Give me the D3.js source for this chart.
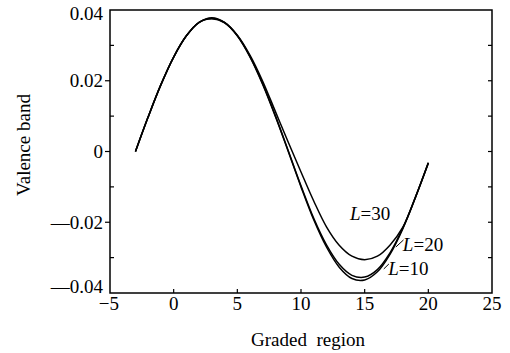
<!DOCTYPE html>
<html><head><meta charset="utf-8">
<script src="https://cdn.jsdelivr.net/npm/d3@7"></script>
<style>body{margin:0;background:#fff}svg{display:block}text{font-family:"Liberation Serif","Times New Roman",serif;fill:#000}</style>
</head><body><svg id="c" width="510" height="353"></svg>
<script>
const xs = [-3,-2,-1,0,1,2,3,4,5,6,7,8,9,10,11,12,13,14,15,16,17,18,19,20];
const L10 = [0,0.0098,0.0189,0.0267,0.0327,0.0365,0.0378,0.0365,0.0327,0.0267,0.0189,0.0098,0,-0.0100,-0.0193,-0.0270,-0.0327,-0.0359,-0.0363,-0.0340,-0.0290,-0.0218,-0.0129,-0.0032];
const L20 = [0,0.0098,0.0189,0.0267,0.0327,0.0365,0.0376,0.0364,0.0327,0.0268,0.0191,0.0100,0.0002,-0.0097,-0.0189,-0.0264,-0.0319,-0.0350,-0.0355,-0.0334,-0.0286,-0.0216,-0.0128,-0.0032];
const L30 = [0,0.0098,0.0189,0.0267,0.0327,0.0365,0.0375,0.0364,0.0329,0.0272,0.0198,0.0112,0.0026,-0.0058,-0.0140,-0.0213,-0.0265,-0.0296,-0.0306,-0.0296,-0.0264,-0.0214,-0.0128,-0.0033];
const xTicks = [-5,0,5,10,15,20,25];
const yTicks = [0.04,0.02,0,-0.02,-0.04];
const yMinor = [0.03,0.01,-0.01,-0.03];
const yTickLabels = ["0.04","0.02","0","\u20140.02","\u20140.04"];
const labels = [{t:"30", x:13.85, y:-0.0194},{t:"20", x:18.0, y:-0.0281},{t:"10", x:16.85, y:-0.0349}];

const svg = d3.select("#c");
const m = {l:110, r:492, t:10, b:293};
const x = d3.scaleLinear().domain([-5,25]).range([m.l,m.r]);
const y = d3.scaleLinear().domain([-0.04,0.04]).range([m.b,m.t]);

svg.append("rect").attr("x",m.l).attr("y",m.t).attr("width",m.r-m.l).attr("height",m.b-m.t)
  .attr("fill","none").attr("stroke","#000").attr("stroke-width",1.5);

const g = svg.append("g");
yTicks.forEach((v,i)=>{
  if(i>0 && i<yTicks.length-1){
    g.append("line").attr("x1",m.l-5).attr("x2",m.l).attr("y1",y(v)).attr("y2",y(v)).attr("stroke","#000").attr("stroke-width",1.2);
  }
  const off = i===0 ? 3 : (i===yTicks.length-1 ? -7 : 0);
  g.append("text").attr("x",m.l-7).attr("y",y(v)+off).attr("dy","0.35em").attr("text-anchor","end")
    .attr("font-size",19).text(yTickLabels[i]);
});
yMinor.forEach(v=>{
  g.append("line").attr("x1",m.l).attr("x2",m.l+4).attr("y1",y(v)).attr("y2",y(v)).attr("stroke","#000").attr("stroke-width",1.2);
});
yMinor.concat(yTicks.slice(1,-1)).forEach(v=>{
  g.append("line").attr("x1",m.r-4).attr("x2",m.r).attr("y1",y(v)).attr("y2",y(v)).attr("stroke","#000").attr("stroke-width",1.2);
});
xTicks.forEach((v,i)=>{
  if(i>0 && i<xTicks.length-1)
    g.append("line").attr("x1",x(v)).attr("x2",x(v)).attr("y1",m.b).attr("y2",m.b-4).attr("stroke","#000").attr("stroke-width",1.2);
  if(v<0){
    g.append("text").attr("x",x(v)+9).attr("y",m.b+17).attr("text-anchor","end").attr("font-size",19)
      .text("\u2212" + Math.abs(v));
  } else {
    g.append("text").attr("x",x(v)).attr("y",m.b+17).attr("text-anchor","middle").attr("font-size",19).text(String(v));
  }
});

svg.append("text").attr("transform",`translate(30,145) rotate(-90)`).attr("text-anchor","middle")
  .attr("font-size",19).text("Valence band");
svg.append("text").attr("x",308).attr("y",346).attr("text-anchor","middle").attr("font-size",19)
  .attr("xml:space","preserve").style("white-space","pre").text("Graded  region");

const line = d3.line().x((d,i)=>x(xs[i])).y(d=>y(d)).curve(d3.curveCatmullRom);
[L10,L20,L30].forEach(s=>{
  svg.append("path").attr("d",line(s)).attr("fill","none").attr("stroke","#000").attr("stroke-width",1.5);
});

labels.forEach(l=>{
  const t = svg.append("text").attr("x",x(l.x)).attr("y",y(l.y)).attr("font-size",19);
  t.append("tspan").attr("font-style","italic").text("L");
  t.append("tspan").text("=" + l.t);
});
svg.append("line").attr("x1",x(18.05)).attr("y1",y(-0.0250)).attr("x2",x(17.45)).attr("y2",y(-0.0270)).attr("stroke","#000").attr("stroke-width",1);
svg.append("line").attr("x1",x(16.9)).attr("y1",y(-0.0318)).attr("x2",x(16.5)).attr("y2",y(-0.0332)).attr("stroke","#000").attr("stroke-width",1);
</script></body></html>
